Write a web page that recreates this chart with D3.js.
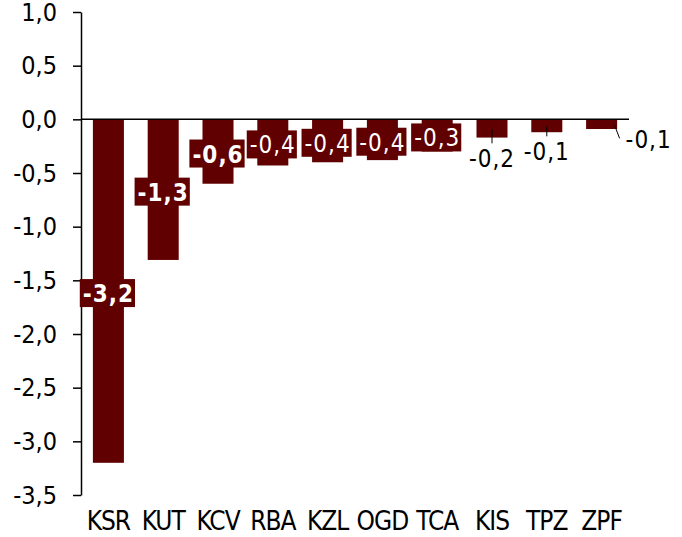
<!DOCTYPE html>
<html>
<head>
<meta charset="utf-8">
<script src="https://cdn.jsdelivr.net/npm/d3@7"></script>
<style>
  body { margin: 0; background: #fff; }
  text { font-family: "DejaVu Sans Condensed", "DejaVu Sans", sans-serif; }
</style>
</head>
<body>
<svg id="chart" width="682" height="537"></svg>
<script>
'use strict';

const categories = ['KSR', 'KUT', 'KCV', 'RBA', 'KZL', 'OGD', 'TCA', 'KIS', 'TPZ', 'ZPF'];
const values = [-3.2, -1.31, -0.6, -0.43, -0.4, -0.38, -0.3, -0.17, -0.12, -0.09];
const yTicks = [1.0, 0.5, 0.0, -0.5, -1.0, -1.5, -2.0, -2.5, -3.0, -3.5];

const BAR_COLOR = '#600000';
const plotLeft = 81, plotRight = 629, plotTop = 12, plotBottom = 495;

const svg = d3.select('#chart');
const fmt = v => d3.format('.1f')(v).replace('.', ',').replace('−', '-');

const x = d3.scaleBand().domain(categories).range([plotLeft, plotRight]).paddingInner(0.434).paddingOuter(0.217);
const y = d3.scaleLinear().domain([-3.5, 1.0]).range([plotBottom, plotTop]);

// bars
svg.selectAll('.bar')
    .data(values)
    .enter().append('rect')
    .attr('class', 'bar')
    .attr('x', (d, i) => x(categories[i]))
    .attr('y', y(0))
    .attr('width', x.bandwidth())
    .attr('height', d => y(d) - y(0))
    .attr('fill', BAR_COLOR);

// y axis
const yAxis = d3.axisLeft(y).tickValues(yTicks).tickSize(8).tickSizeOuter(0).tickPadding(16).tickFormat(fmt);
const gy = svg.append('g').attr('transform', `translate(${plotLeft},0)`).call(yAxis);
gy.select('.domain').attr('stroke', '#000').attr('stroke-width', 1.5);
gy.selectAll('.tick line').attr('stroke', '#000').attr('stroke-width', 1.5);
gy.selectAll('.tick text').attr('font-size', 25).attr('fill', '#000')
    .style('font-family', '"DejaVu Sans Condensed", sans-serif');

// zero line
svg.append('line')
    .attr('x1', plotLeft).attr('x2', plotRight)
    .attr('y1', y(0)).attr('y2', y(0))
    .attr('stroke', '#000').attr('stroke-width', 1.5);

// category labels
svg.selectAll('.cat')
    .data(categories)
    .enter().append('text')
    .attr('class', 'cat')
    .attr('x', d => x(d) + x.bandwidth() / 2)
    .attr('y', 530)
    .attr('text-anchor', 'middle')
    .attr('font-size', 26)
    .attr('letter-spacing', -1)
    .attr('fill', '#000')
    .text(d => d);

// data labels: boxed labels for the larger bars
const boxed = 7;
const boldCount = 3;
values.forEach((v, i) => {
    const cx = x(categories[i]) + x.bandwidth() / 2;
    if (i < boxed) {
        const cy = (y(0) + y(v)) / 2 + 2;
        const g = svg.append('g');
        const t = g.append('text')
            .attr('x', cx).attr('y', cy + 1)
            .attr('text-anchor', 'middle')
            .attr('dominant-baseline', 'central')
            .attr('font-size', 24)
            .attr('font-weight', i < boldCount ? 'bold' : 'normal')
            .attr('letter-spacing', 1)
            .attr('fill', '#fff')
            .text(fmt(v));
        const bb = t.node().getBBox();
        g.insert('rect', 'text')
            .attr('x', bb.x - 3).attr('y', cy - 14)
            .attr('width', bb.width + 4).attr('height', 28)
            .attr('fill', BAR_COLOR);
    }
});

// leader-line labels for the small bars
const leaders = [
    { i: 7, x1: 0, y1: 10, x2: 0, y2: 24, tx: 0, ty: 48, anchor: 'middle' },
    { i: 8, x1: 0, y1: 7, x2: 0, y2: 17, tx: 0, ty: 41, anchor: 'middle' },
    { i: 9, x1: 13, y1: 6, x2: 18, y2: 19, tx: 24, ty: 29, anchor: 'start' }
];
leaders.forEach(l => {
    const cx = x(categories[l.i]) + x.bandwidth() / 2;
    const y0 = y(0);
    svg.append('line')
        .attr('x1', cx + l.x1).attr('y1', y0 + l.y1)
        .attr('x2', cx + l.x2).attr('y2', y0 + l.y2)
        .attr('stroke', '#000').attr('stroke-width', 1);
    svg.append('text')
        .attr('x', cx + l.tx).attr('y', y0 + l.ty)
        .attr('text-anchor', l.anchor)
        .attr('font-size', 24)
        .attr('letter-spacing', 1)
        .attr('fill', '#000')
        .text(fmt(values[l.i]));
});
</script>
</body>
</html>
